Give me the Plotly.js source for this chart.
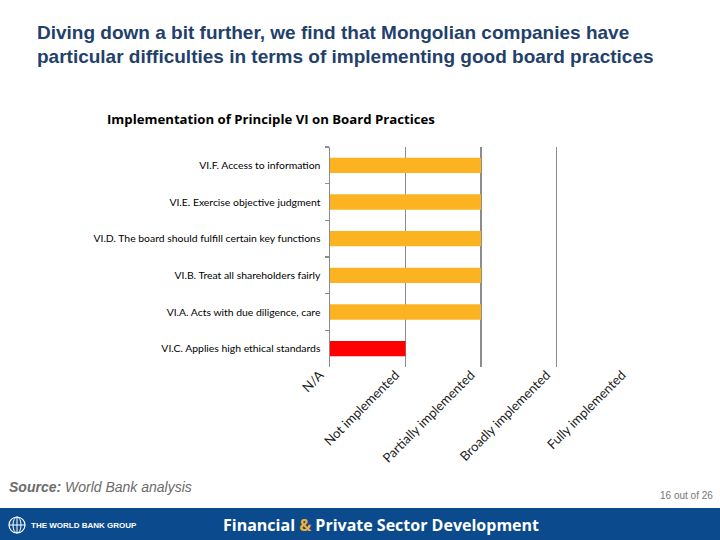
<!DOCTYPE html>
<html>
<head>
<meta charset="utf-8">
<script src="https://cdn.plot.ly/plotly-3.0.1.min.js"></script>
<style>
html,body{margin:0;padding:0;background:#fff;}
#chart{width:720px;height:540px;}
</style>
</head>
<body>
<div id="chart"></div>
<script>
// ---- Data ----
var principles = [
  "VI.F. Access to information",
  "VI.E. Exercise objective judgment",
  "VI.D. The board should fulfill certain key functions",
  "VI.B. Treat all shareholders fairly",
  "VI.A. Acts with due diligence, care",
  "VI.C. Applies high ethical standards"
];
var levelLabels = ["N/A", "Not implemented", "Partially implemented", "Broadly implemented", "Fully implemented"];
var levelValues = [0, 1, 2, 3, 4];
var scores = [2, 2, 2, 2, 2, 1];
var barColors = ["#FBB321", "#FBB321", "#FBB321", "#FBB321", "#FBB321", "#FF0000"];

// ---- Layout helpers (plot area in pixels) ----
var L = 330, R = 632, T = 147, B = 367;
function px(x){ return (x - L) / (R - L); }
function py(y){ return (B - y) / (B - T); }

var trace = {
  type: "bar",
  orientation: "h",
  y: principles,
  x: scores,
  marker: {color: barColors, line: {width: 0}},
  hoverinfo: "x+y"
};

var annotations = [
  {text: "<b>Diving down a bit further, we find that Mongolian companies have</b>",
   xref: "paper", yref: "paper", x: px(35), y: py(32), xanchor: "left", yanchor: "middle",
   showarrow: false, font: {family: "Liberation Sans, Arial, sans-serif", size: 19, color: "#233F6B"}},
  {text: "<b>particular difficulties in terms of implementing good board practices</b>",
   xref: "paper", yref: "paper", x: px(35), y: py(56), xanchor: "left", yanchor: "middle",
   showarrow: false, font: {family: "Liberation Sans, Arial, sans-serif", size: 19, color: "#233F6B"}},
  {text: "<b><i>Source:</i></b><i> World Bank analysis</i>",
   xref: "paper", yref: "paper", x: px(7), y: py(487), xanchor: "left", yanchor: "middle",
   showarrow: false, font: {family: "Liberation Sans, Arial, sans-serif", size: 14, color: "#6b6b6b"}},
  {text: "16 out of 26",
   xref: "paper", yref: "paper", x: px(715), y: py(495), xanchor: "right", yanchor: "middle",
   showarrow: false, font: {family: "Liberation Sans, Arial, sans-serif", size: 10, color: "#777777"}},
  {text: "<b>THE WORLD BANK GROUP</b>",
   xref: "paper", yref: "paper", x: px(29), y: py(525), xanchor: "left", yanchor: "middle",
   showarrow: false, font: {family: "Liberation Sans, Arial, sans-serif", size: 8, color: "#ffffff"}},
  {text: "<b>Financial <span style='color:#F2B134'>&</span> Private Sector Development</b>",
   xref: "paper", yref: "paper", x: px(381), y: py(525), xanchor: "center", yanchor: "middle",
   showarrow: false, font: {family: "Open Sans, sans-serif", size: 16, color: "#ffffff"}}
];

var shapes = [
  {type: "rect", xref: "paper", yref: "paper", x0: px(0), x1: px(720), y0: py(508), y1: py(541),
   fillcolor: "#0B4A8C", line: {width: 0}, layer: "above"},
  {type: "circle", xref: "paper", yref: "paper", x0: px(9), x1: px(25), y0: py(517), y1: py(533),
   line: {color: "#ffffff", width: 1.2}, layer: "above"},
  {type: "circle", xref: "paper", yref: "paper", x0: px(13), x1: px(21), y0: py(517), y1: py(533),
   line: {color: "#ffffff", width: 1}, layer: "above"},
  {type: "line", xref: "paper", yref: "paper", x0: px(9), x1: px(25), y0: py(525), y1: py(525),
   line: {color: "#ffffff", width: 1}, layer: "above"},
  {type: "line", xref: "paper", yref: "paper", x0: px(17), x1: px(17), y0: py(517), y1: py(533),
   line: {color: "#ffffff", width: 1}, layer: "above"}
];

var layout = {
  width: 720, height: 540, autosize: false,
  margin: {l: L, r: 720 - R, t: T, b: 540 - B, pad: 0},
  paper_bgcolor: "#ffffff", plot_bgcolor: "#ffffff",
  showlegend: false,
  bargap: 0.58,
  title: {
    text: "<b>Implementation of Principle VI on Board Practices</b>",
    xref: "container", yref: "container", x: 107/720, y: 1 - 119/540,
    xanchor: "left", yanchor: "middle",
    font: {family: "Open Sans, sans-serif", size: 13.2, color: "#000000"}
  },
  xaxis: {
    range: [0, 4], tickmode: "array", tickvals: levelValues, ticktext: levelLabels,
    tickangle: -45, ticks: "", showline: false, zeroline: false,
    showgrid: true, gridcolor: "#8c8c8c", gridwidth: 1.5,
    tickfont: {family: "Lato, sans-serif", size: 13, color: "#1a1a1a"},
    ticklabelshift: -10, ticklabelstandoff: -3,
    automargin: false, fixedrange: true
  },
  yaxis: {
    type: "category", categoryorder: "array", categoryarray: principles,
    autorange: "reversed", tickson: "boundaries", ticks: "outside", ticklen: 4,
    tickcolor: "#8c8c8c", tickwidth: 1.5,
    showline: true, linecolor: "#8c8c8c", linewidth: 1.5,
    showgrid: false, zeroline: false,
    tickfont: {family: "Lato, sans-serif", size: 10.4, color: "#000000"},
    ticklabelstandoff: 6,
    automargin: false, fixedrange: true
  },
  annotations: annotations,
  shapes: shapes
};

Plotly.newPlot("chart", [trace], layout, {displayModeBar: false, staticPlot: true});
</script>
</body>
</html>
